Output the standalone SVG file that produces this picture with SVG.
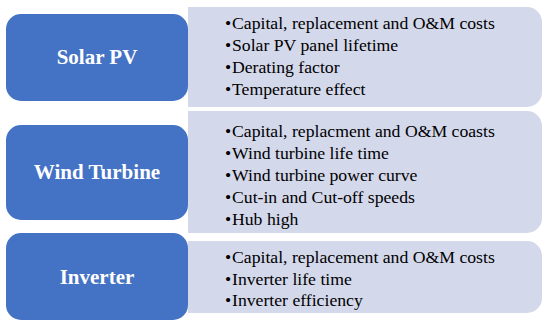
<svg xmlns="http://www.w3.org/2000/svg" width="550" height="327" viewBox="0 0 550 327">
<style>
.panel{fill:#D4D8EB}
.box{fill:#4472C4}
</style>
<rect width="550" height="327" fill="#fff"/>
<g id="solar">
<path class="panel" d="M188,7 H527 A15,15 0 0 1 542,22 V92 A15,15 0 0 1 527,107 H188 Z"/>
<rect class="box" x="6" y="14" width="182" height="87" rx="15"/>
<text x="97" y="64" font-family="Liberation Serif" font-size="21" font-weight="bold" fill="#fff" text-anchor="middle">Solar PV</text>
<text x="225" y="29" font-family="Liberation Serif" font-size="17.7">•<tspan x="232">Capital, replacement and O&amp;M costs</tspan></text>
<text x="225" y="51" font-family="Liberation Serif" font-size="17.7">•<tspan x="232">Solar PV panel lifetime</tspan></text>
<text x="225" y="73" font-family="Liberation Serif" font-size="17.7">•<tspan x="232">Derating factor</tspan></text>
<text x="225" y="95" font-family="Liberation Serif" font-size="17.7">•<tspan x="232">Temperature effect</tspan></text>
</g>
<g id="wind">
<path class="panel" d="M188,111 H527 A15,15 0 0 1 542,126 V218 A15,15 0 0 1 527,233 H188 Z"/>
<rect class="box" x="6" y="125" width="182" height="95" rx="15"/>
<text x="97" y="179" font-family="Liberation Serif" font-size="21" font-weight="bold" fill="#fff" text-anchor="middle">Wind Turbine</text>
<text x="225" y="137" font-family="Liberation Serif" font-size="17.7">•<tspan x="232">Capital, replacment and O&amp;M coasts</tspan></text>
<text x="225" y="159" font-family="Liberation Serif" font-size="17.7">•<tspan x="232">Wind turbine life time</tspan></text>
<text x="225" y="181" font-family="Liberation Serif" font-size="17.7">•<tspan x="232">Wind turbine power curve</tspan></text>
<text x="225" y="203" font-family="Liberation Serif" font-size="17.7">•<tspan x="232">Cut-in and Cut-off speeds</tspan></text>
<text x="225" y="225" font-family="Liberation Serif" font-size="17.7">•<tspan x="232">Hub high</tspan></text>
</g>
<g id="inverter">
<path class="panel" d="M188,241 H527 A15,15 0 0 1 542,256 V298 A15,15 0 0 1 527,313 H188 Z"/>
<rect class="box" x="6" y="233" width="182" height="87" rx="15"/>
<text x="97" y="284" font-family="Liberation Serif" font-size="21" font-weight="bold" fill="#fff" text-anchor="middle">Inverter</text>
<text x="225" y="263" font-family="Liberation Serif" font-size="17.7">•<tspan x="232">Capital, replacement and O&amp;M costs</tspan></text>
<text x="225" y="285" font-family="Liberation Serif" font-size="17.7">•<tspan x="232">Inverter life time</tspan></text>
<text x="225" y="306" font-family="Liberation Serif" font-size="17.7">•<tspan x="232">Inverter efficiency</tspan></text>
</g>
<g id="connectors"></g>
</svg>
